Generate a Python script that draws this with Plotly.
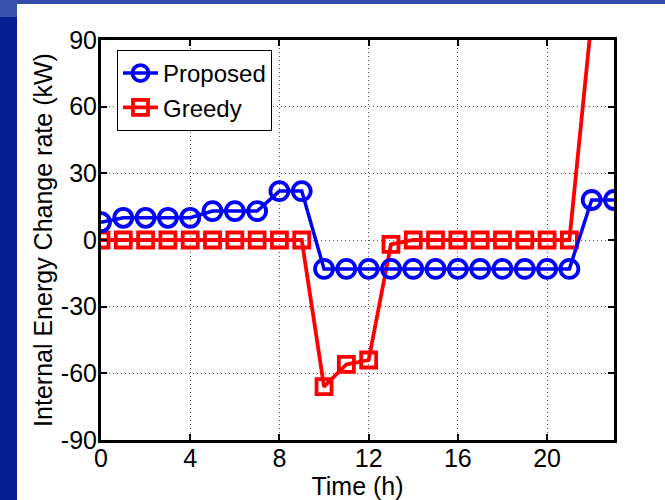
import plotly.graph_objects as go

hours = list(range(24))
proposed = [8, 10, 10, 10, 10, 13, 13, 13, 22, 22, -13, -13, -13, -13, -13, -13,
            -13, -13, -13, -13, -13, -13, 18, 18]
greedy = [0, 0, 0, 0, 0, 0, 0, 0, 0, 0, -66, -56, -54, -2, 0, 0,
          0, 0, 0, 0, 0, 0, 100, 100]
x_ticks = [0, 4, 8, 12, 16, 20]
y_ticks = [-90, -60, -30, 0, 30, 60, 90]

FONT = "Liberation Sans, Arial, sans-serif"
FS = 25

fig = go.Figure()
fig.add_trace(go.Scatter(
    x=hours, y=greedy, name="Greedy", mode="lines+markers",
    line=dict(color="#FF0000", width=3.8),
    marker=dict(symbol="square-open", size=15, color="#FF0000", line=dict(width=3.8, color="#FF0000")),
))
fig.add_trace(go.Scatter(
    x=hours, y=proposed, name="Proposed", mode="lines+markers",
    line=dict(color="#0000FF", width=3.5),
    marker=dict(symbol="circle-open", size=18, color="#0000FF", line=dict(width=3.8, color="#0000FF")),
))

W0, W1 = 101, 614
H0, H1 = 40, 440
pw, ph = W1 - W0, H1 - H0

def px(x):
    return (x - W0) / pw

def py(y):
    return (H1 - y) / ph

shapes = [
    dict(type="rect", xref="paper", yref="paper", x0=px(0), x1=px(17), y0=py(500), y1=py(17),
         fillcolor="rgb(6,34,146)", line=dict(width=0), layer="above"),
    dict(type="rect", xref="paper", yref="paper", x0=px(17), x1=px(665), y0=py(4), y1=py(0),
         fillcolor="rgb(50,74,170)", line=dict(width=0), layer="above"),
    dict(type="rect", xref="paper", yref="paper", x0=px(0), x1=px(17), y0=py(17), y1=py(0),
         fillcolor="rgb(58,82,172)", line=dict(width=0), layer="above"),
]

axis_common = dict(
    showline=True, linecolor="black", linewidth=3, mirror="ticks",
    ticks="inside", ticklen=6, tickwidth=2, tickcolor="black",
    showgrid=True, gridcolor="#555", griddash="1px,3px", gridwidth=1,
    zeroline=False, tickfont=dict(size=FS), automargin=False,
)

fig.update_layout(
    width=665, height=500,
    margin=dict(l=W0, r=665 - W1, t=H0, b=500 - H1, autoexpand=False),
    paper_bgcolor="white", plot_bgcolor="white",
    font=dict(family=FONT, size=FS, color="black"),
    showlegend=True,
    legend=dict(x=px(117), y=py(50), xanchor="left", yanchor="top",
                bgcolor="white", bordercolor="black", borderwidth=1,
                font=dict(size=24, family=FONT), tracegroupgap=0, itemwidth=35,
                traceorder="reversed"),
    shapes=shapes,
    xaxis=dict(range=[0, 23], tickvals=x_ticks, ticktext=[str(v) for v in x_ticks],
               title=dict(text="Time (h)", font=dict(size=FS), standoff=0),
               ticklabelstandoff=-6,
               **axis_common),
    yaxis=dict(range=[-90, 90], tickvals=y_ticks, ticktext=[str(v) for v in y_ticks],
               title=dict(text="Internal Energy Change rate (kW)", font=dict(size=FS), standoff=2),
               ticklabelstandoff=-4,
               **axis_common),
)

fig.write_html("out.html", config={"displayModeBar": False},
               post_script="document.body.style.margin='0';")
